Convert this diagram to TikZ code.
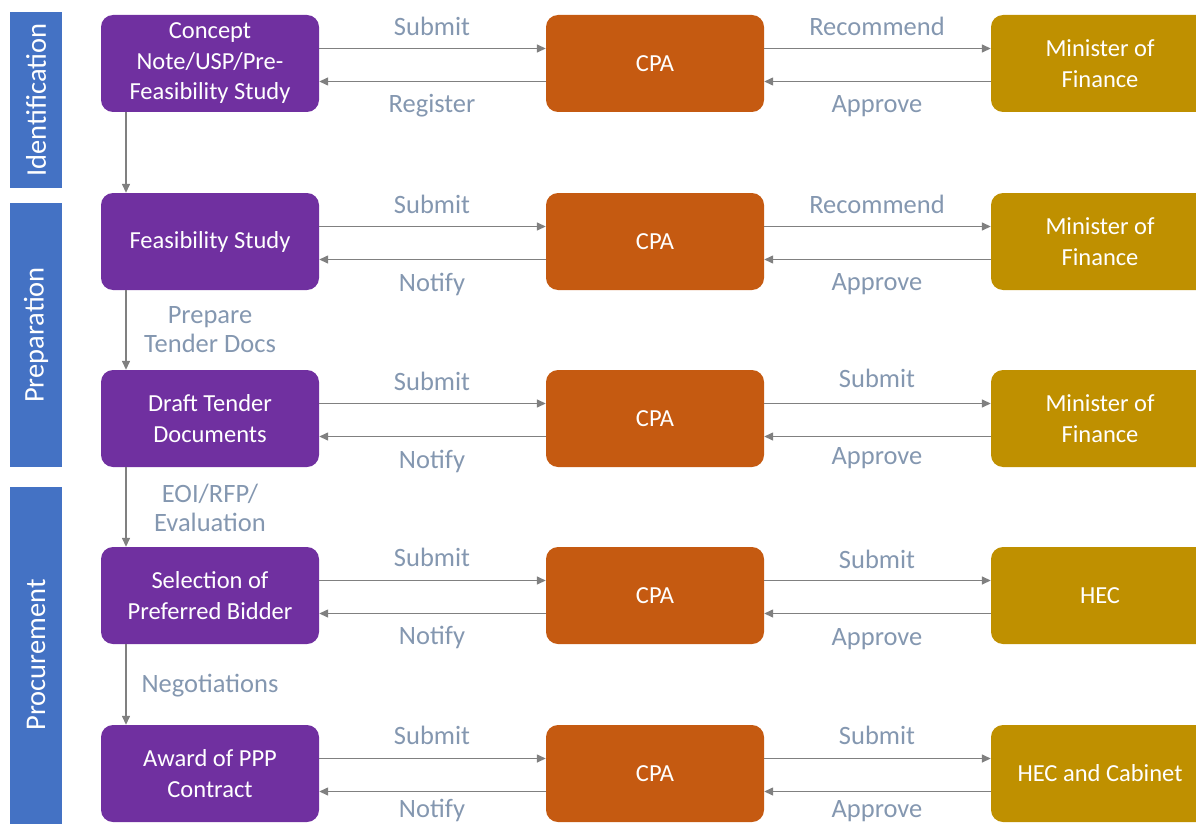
\documentclass[tikz,border=0pt]{standalone}
\usepackage{fontspec}
\setmainfont{Carlito}
\usetikzlibrary{arrows.meta}
\definecolor{sidebl}{HTML}{4472C4}
\definecolor{purp}{HTML}{7030A0}
\definecolor{orng}{HTML}{C55A11}
\definecolor{gold}{HTML}{BF9000}
\definecolor{lbl}{HTML}{8497B0}
\definecolor{arrg}{HTML}{808080}
\tikzset{
  box/.style={rounded corners=12pt, minimum width=218pt, minimum height=97pt, inner sep=2pt,
    text=white, align=center, font=\fontsize{24.5}{30.5}\selectfont},
  pbox/.style={box, fill=purp},
  cbox/.style={box, fill=orng},
  mbox/.style={box, fill=gold},
  side/.style={fill=sidebl, minimum width=52pt, inner sep=0pt},
  sidetext/.style={text=white, rotate=90, font=\fontsize{28.5}{32}\selectfont},
  lab/.style={text=lbl, font=\fontsize{26.5}{29}\selectfont, align=center},
  arr/.style={draw=arrg, line width=1.4pt, -{Triangle[length=9pt,width=8pt]}}
}
\begin{document}
\begin{tikzpicture}[x=1pt,y=-1pt]
\useasboundingbox (0,0) rectangle (1196,824);
\begin{scope}
\clip (0,0) rectangle (1196,824);
% sidebars
\node[side, minimum height=176pt] (s1) at (36,100) {};
\node[sidetext] (s1t) at (36,100) {Identification};
\node[side, minimum height=264pt] (s2) at (36,335) {};
\node[sidetext] (s2t) at (36,335) {Preparation};
\node[side, minimum height=340pt] (s3) at (36,657) {};
\node[sidetext] (s3t) at (36,655) {Procurement};
% rows
\foreach \i/\y/\ptxt/\mtxt in {1/63.5/{Concept\\Note/USP/Pre-\\Feasibility Study}/{Minister of\\Finance},
  2/241.5/{Feasibility Study}/{Minister of\\Finance},
  3/418.5/{Draft Tender\\Documents}/{Minister of\\Finance},
  4/595.5/{Selection of\\Preferred Bidder}/{HEC},
  5/773.5/{Award of PPP\\Contract}/{HEC and Cabinet}} {
  \node[pbox] (p\i) at (210,\y) {\ptxt};
  \node[cbox] (c\i) at (655,\y) {CPA};
  \node[mbox] (m\i) at (1100,\y) {\mtxt};
  \draw[arr] ([yshift=15pt]p\i.east) -- ([yshift=15pt]c\i.west);
  \draw[arr] ([yshift=-18pt]c\i.west) -- ([yshift=-18pt]p\i.east);
  \draw[arr] ([yshift=15pt]c\i.east) -- ([yshift=15pt]m\i.west);
  \draw[arr] ([yshift=-18pt]m\i.west) -- ([yshift=-18pt]c\i.east);
}
% labels
\node[lab] (l1a) at (432,26) {Submit};
\node[lab] (l1b) at (432,106) {Register};
\node[lab] (r1a) at (877,26) {Recommend};
\node[lab] (r1b) at (877,106) {Approve};
\node[lab] (l2a) at (432,204) {Submit};
\node[lab] (l2b) at (432,284) {Notify};
\node[lab] (r2a) at (877,204) {Recommend};
\node[lab] (r2b) at (877,284) {Approve};
\node[lab] (l3a) at (432,381) {Submit};
\node[lab] (l3b) at (432,461) {Notify};
\node[lab] (r3a) at (877,378) {Submit};
\node[lab] (r3b) at (877,458) {Approve};
\node[lab] (l4a) at (432,557) {Submit};
\node[lab] (l4b) at (432,637) {Notify};
\node[lab] (r4a) at (877,559) {Submit};
\node[lab] (r4b) at (877,639) {Approve};
\node[lab] (l5a) at (432,735) {Submit};
\node[lab] (l5b) at (432,810) {Notify};
\node[lab] (r5a) at (877,735) {Submit};
\node[lab] (r5b) at (877,811) {Approve};
% vertical arrows
\draw[arr] (p1.south -| 126,0) -- (p2.north -| 126,0);
\draw[arr] (p2.south -| 126,0) -- (p3.north -| 126,0);
\draw[arr] (p3.south -| 126,0) -- (p4.north -| 126,0);
\draw[arr] (p4.south -| 126,0) -- (p5.north -| 126,0);
\node[lab] (v1) at (210,330) {Prepare\\Tender Docs};
\node[lab] (v2) at (210,508) {EOI/RFP/\\Evaluation};
\node[lab] (v3) at (210,686) {Negotiations};
\end{scope}
\end{tikzpicture}
\end{document}
